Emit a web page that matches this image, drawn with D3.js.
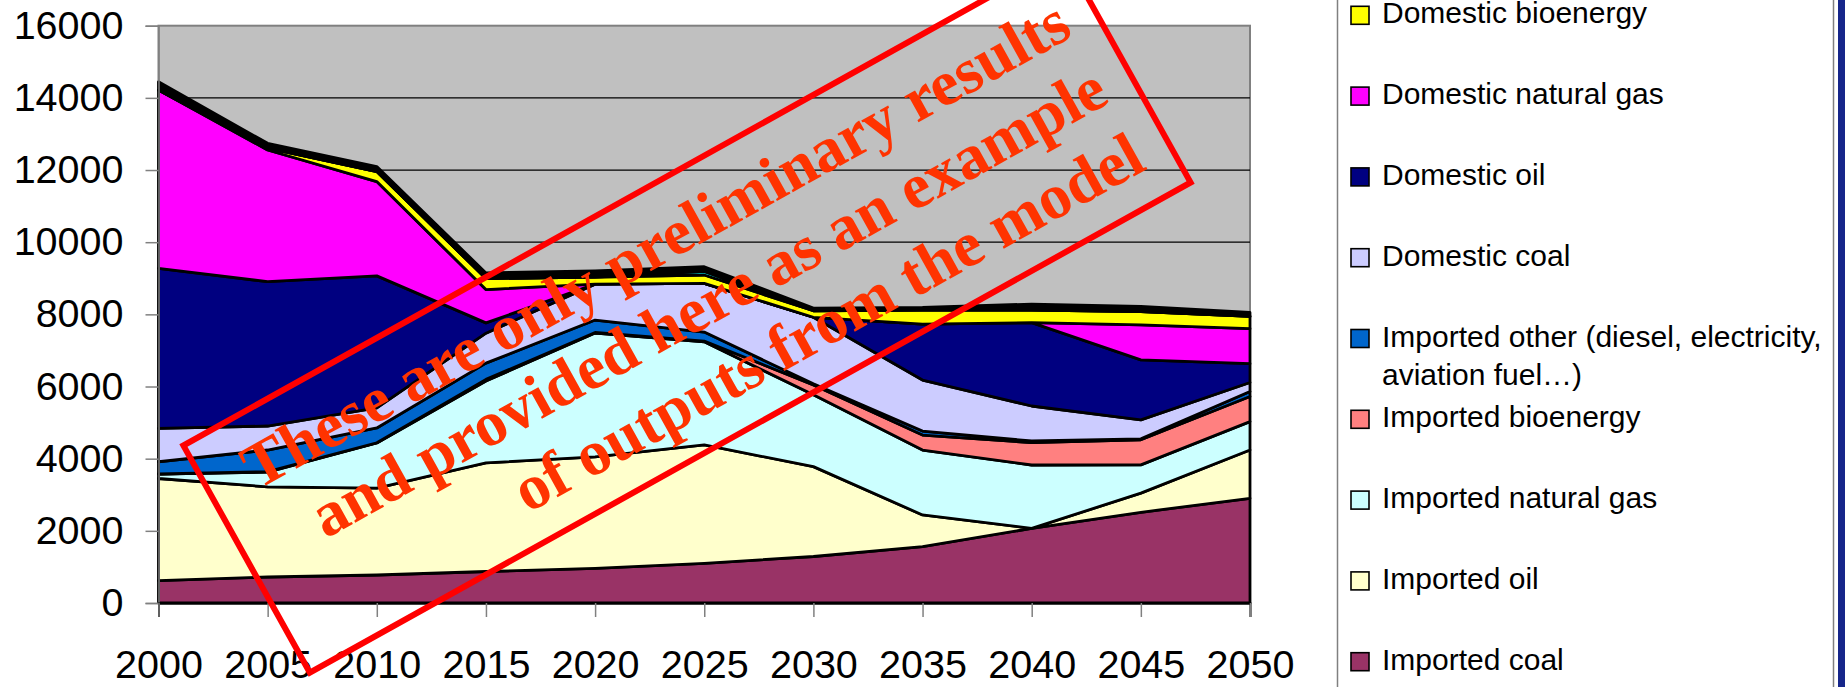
<!DOCTYPE html>
<html>
<head>
<meta charset="utf-8">
<script src="https://cdn.jsdelivr.net/npm/d3@7"></script>
<style>
  html, body { margin: 0; padding: 0; background: #ffffff; }
  svg { display: block; }
</style>
</head>
<body>
<svg id="chart" width="1845" height="687"></svg>
<script>
// ---------------- data ----------------
const years = [2000, 2005, 2010, 2015, 2020, 2025, 2030, 2035, 2040, 2045, 2050];
const yTicks = [0, 2000, 4000, 6000, 8000, 10000, 12000, 14000, 16000];

const importedCoal  = [620, 720, 776, 873, 962, 1100, 1289, 1560, 2070, 2514, 2902];
const importedOil   = [2830, 2500, 2410, 3010, 3090, 3280, 2490, 880, 0, 530, 1340];
const importedGas   = [125, 410, 1250, 2270, 3430, 2860, 1990, 1800, 1755, 785, 785];
const importedBio   = [0, 10, 5, 45, 15, 20, 275, 415, 620, 695, 695];
const importedOther = [340, 600, 410, 450, 345, 250, 30, 110, 45, 25, 140];
const domesticCoal  = [925, 665, 555, 830, 995, 1350, 1845, 1415, 970, 525, 250];
const domesticOil   = [4435, 4000, 3660, 285, 0, 0, 0, 1550, 2310, 1665, 520];
const domesticGas   = [4940, 3650, 2615, 925, 0, 0, 0, 0, 0, 970, 970];
const domesticBio   = [0, 55, 275, 305, 195, 230, 180, 390, 350, 370, 340];
// two thin top series whose legend entries lie outside the visible picture
const domesticOtherA = [0, 0, 0, 0, 0, 100, 0, 0, 0, 0, 0];
const domesticOtherB = [230, 130, 140, 155, 175, 130, 75, 75, 165, 140, 110];

const seriesNames = [
  "Imported coal", "Imported oil", "Imported natural gas", "Imported bioenergy",
  "Imported other (diesel, electricity, aviation fuel…)", "Domestic coal", "Domestic oil",
  "Domestic natural gas", "Domestic bioenergy", "Domestic other A", "Domestic other B"
];
const seriesValues = [
  importedCoal, importedOil, importedGas, importedBio, importedOther,
  domesticCoal, domesticOil, domesticGas, domesticBio, domesticOtherA, domesticOtherB
];
const seriesColors = [
  "#993366", "#FFFFCC", "#CCFFFF", "#FF8080", "#0066CC",
  "#CCCCFF", "#000080", "#FF00FF", "#FFFF00", "#00FFFF", "#000000"
];
// legend (top to bottom) as visible in the picture
const legendItems = [
  ["Domestic bioenergy"], ["Domestic natural gas"], ["Domestic oil"], ["Domestic coal"],
  ["Imported other (diesel, electricity,", "aviation fuel…)"],
  ["Imported bioenergy"], ["Imported natural gas"], ["Imported oil"], ["Imported coal"]
];
const legendColors = ["#FFFF00", "#FF00FF", "#000080", "#CCCCFF", "#0066CC",
                      "#FF8080", "#CCFFFF", "#FFFFCC", "#993366"];
const watermarkLines = [
  "These are only preliminary results",
  "and provided here as an example",
  "of outputs from the model"
];

// ---------------- layout ----------------
const svg = d3.select("#chart");
const X0 = 158.5, X1 = 1250, Y0 = 25.7, Y1 = 603;

const x = d3.scaleLinear().domain([2000, 2050]).range([X0, X1]);
const y = d3.scaleLinear().domain([0, 16000]).range([Y1, Y0]);

const rows = years.map((yr, i) => {
  const r = { year: yr };
  seriesNames.forEach((n, k) => r[n] = seriesValues[k][i]);
  return r;
});
const stacked = d3.stack().keys(seriesNames)(rows);

// plot background
svg.append("rect")
  .attr("x", X0).attr("y", Y0).attr("width", X1 - X0).attr("height", Y1 - Y0)
  .attr("fill", "#C0C0C0").attr("stroke", "#808080").attr("stroke-width", 2);

// gridlines
svg.append("g").selectAll("line")
  .data(yTicks.filter(t => t > 0 && t < 16000))
  .join("line")
  .attr("x1", X0).attr("x2", X1)
  .attr("y1", d => y(d)).attr("y2", d => y(d))
  .attr("stroke", "#000").attr("stroke-width", 1.2);

// areas
const area = d3.area()
  .x(d => x(d.data.year))
  .y0(d => y(d[0]))
  .y1(d => y(d[1]));

svg.append("g").selectAll("path")
  .data(stacked)
  .join("path")
  .attr("d", area)
  .attr("fill", (d, i) => seriesColors[i])
  .attr("stroke", "#000")
  .attr("stroke-width", 2.8)
  .attr("stroke-linejoin", "round");

// axes
const fontAxis = "'Liberation Sans', Arial, Helvetica, sans-serif";
const yAxis = svg.append("g")
  .attr("transform", `translate(${X0},0)`)
  .call(d3.axisLeft(y).tickValues(yTicks).tickFormat(d3.format("d")).tickSize(13).tickPadding(22));
yAxis.selectAll("text").attr("font-family", fontAxis).attr("font-size", 39.5).attr("fill", "#000");
yAxis.selectAll("line").attr("stroke", "#808080").attr("stroke-width", 1.5);
yAxis.select(".domain").attr("stroke", "#808080").attr("stroke-width", 1.5);

const xAxis = svg.append("g")
  .attr("transform", `translate(0,${Y1})`)
  .call(d3.axisBottom(x).tickValues(years).tickFormat(d3.format("d")).tickSize(14));
xAxis.selectAll("text").attr("font-family", fontAxis).attr("font-size", 39.5).attr("fill", "#000")
  .attr("dy", null).attr("y", 75);
xAxis.selectAll("line").attr("stroke", "#808080").attr("stroke-width", 1.5);
xAxis.select(".domain").attr("stroke", "#000").attr("stroke-width", 2);

// watermark
const wm = svg.append("g")
  .attr("transform", "translate(687,314) rotate(-29.1)");
wm.append("rect")
  .attr("x", -504).attr("y", -130).attr("width", 1008).attr("height", 260)
  .attr("fill", "none").attr("stroke", "#FF0000").attr("stroke-width", 6);
wm.selectAll("text")
  .data(watermarkLines)
  .join("text")
  .attr("x", 474)
  .attr("y", (d, i) => -55 + i * 76)
  .attr("text-anchor", "end")
  .attr("font-family", "'Liberation Serif', 'Times New Roman', serif")
  .attr("font-weight", "bold")
  .attr("font-size", 64)
  .attr("fill", "#FF3300")
  .text(d => d);

// legend
const fontLeg = "'Liberation Sans', Arial, Helvetica, sans-serif";
svg.append("rect")
  .attr("x", 1337.5).attr("y", -5).attr("width", 496).attr("height", 700)
  .attr("fill", "#fff").attr("stroke", "#808080").attr("stroke-width", 1.5);
svg.append("rect")
  .attr("x", 1838).attr("y", 0).attr("width", 7).attr("height", 687)
  .attr("fill", "#16268A");

const leg = svg.append("g").selectAll("g")
  .data(legendItems)
  .join("g")
  .attr("transform", (d, i) => `translate(0,${15.3 + i * 80.8})`);
leg.append("rect")
  .attr("x", 1351).attr("y", -9).attr("width", 18).attr("height", 18)
  .attr("fill", (d, i) => legendColors[i])
  .attr("stroke", "#000").attr("stroke-width", 1.6);
leg.each(function(lines) {
  const t = d3.select(this).append("text")
    .attr("font-family", fontLeg).attr("font-size", 30).attr("fill", "#000");
  lines.forEach((ln, j) => {
    t.append("tspan").attr("x", 1382).attr("y", 8 + j * 38.5).text(ln);
  });
});
</script>
</body>
</html>
